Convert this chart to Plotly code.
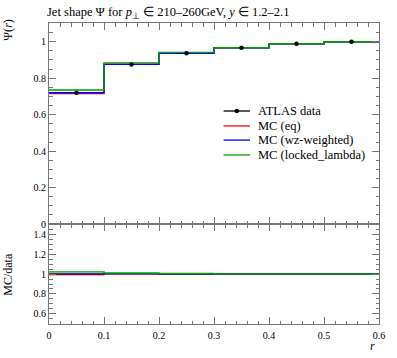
import plotly.graph_objects as go

# ---- data ----
bin_edges = [0.0, 0.1, 0.2, 0.3, 0.4, 0.5, 0.6]
bin_centers = [0.05, 0.15, 0.25, 0.35, 0.45, 0.55]
atlas_data = [0.720, 0.875, 0.937, 0.967, 0.989, 1.000]
atlas_err = [0.010, 0.005, 0.004, 0.003, 0.002, 0.001]
mc_eq = [0.716, 0.877, 0.937, 0.967, 0.989, 1.000]
mc_wz = [0.720, 0.876, 0.937, 0.967, 0.989, 1.000]
mc_locked = [0.735, 0.884, 0.942, 0.967, 0.989, 1.000]

series = [
    ("MC (eq)", mc_eq, "#ff0000"),
    ("MC (wz-weighted)", mc_wz, "#0000ff"),
    ("MC (locked_lambda)", mc_locked, "#00a000"),
]

FONT = "Liberation Serif"
AXC = "#777777"

fig = go.Figure()

def step(vals):
    return list(vals) + [vals[-1]]

# main panel MC histograms
for name, vals, col in series:
    fig.add_trace(go.Scatter(x=bin_edges, y=step(vals), mode="lines",
                             line=dict(color=col, width=1.4, shape="hv"),
                             xaxis="x", yaxis="y", showlegend=False))

# data points
fig.add_trace(go.Scatter(x=bin_centers, y=atlas_data, mode="markers",
                         marker=dict(color="black", size=4.5),
                         error_y=dict(type="data", array=atlas_err, color="black",
                                      thickness=1, width=0),
                         xaxis="x", yaxis="y", showlegend=False))

# ratio panel: data uncertainty band
rel_err = [e / d for e, d in zip(atlas_err, atlas_data)]
lo = [1 - r for r in rel_err]
hi = [1 + r for r in rel_err]
fig.add_trace(go.Scatter(x=bin_edges, y=step(lo), mode="lines",
                         line=dict(color="#ffee00", width=0, shape="hv"),
                         xaxis="x2", yaxis="y2", showlegend=False))
fig.add_trace(go.Scatter(x=bin_edges, y=step(hi), mode="lines",
                         line=dict(color="#ffee00", width=0, shape="hv"),
                         fill="tonexty", fillcolor="#ffee00",
                         xaxis="x2", yaxis="y2", showlegend=False))
for name, vals, col in series:
    ratio = [v / d for v, d in zip(vals, atlas_data)]
    fig.add_trace(go.Scatter(x=bin_edges, y=step(ratio), mode="lines",
                             line=dict(color=col, width=1.4, shape="hv"),
                             xaxis="x2", yaxis="y2", showlegend=False))

split = 0.3322
common_x = dict(range=[0, 0.6], showline=True, linecolor=AXC, linewidth=1,
                mirror="allticks", ticks="inside", ticklen=7, tickcolor=AXC,
                dtick=0.1, tick0=0, showgrid=False, zeroline=False,
                minor=dict(ticks="inside", ticklen=3.5, dtick=0.02, tickcolor=AXC))
fig.update_layout(
    width=397, height=358,
    margin=dict(l=49, r=13, t=23, b=34),
    paper_bgcolor="white", plot_bgcolor="white",
    font=dict(family=FONT, size=11, color="black"),
    showlegend=False,
    xaxis=dict(**common_x, domain=[0, 1], anchor="y", showticklabels=False),
    xaxis2=dict(**common_x, domain=[0, 1], anchor="y2", showticklabels=True,
                tickvals=[0, 0.1, 0.2, 0.3, 0.4, 0.5, 0.6],
                ticktext=["0", "0.1", "0.2", "0.3", "0.4", "0.5", "0.6"],
                tickfont=dict(size=10), ticklabelstandoff=2),
    yaxis=dict(domain=[split, 1], anchor="x", range=[0, 1.103],
               showline=True, linecolor=AXC, mirror="allticks", ticks="inside",
               ticklen=7, tickcolor=AXC,
               tickvals=[0, 0.2, 0.4, 0.6, 0.8, 1.0],
               ticktext=["0", "0.2", "0.4", "0.6", "0.8", "1"],
               minor=dict(ticks="inside", ticklen=3.5, dtick=0.05, tickcolor=AXC),
               showgrid=False, zeroline=False, tickfont=dict(size=10)),
    yaxis2=dict(domain=[0, split], anchor="x2", range=[0.5, 1.5],
                showline=True, linecolor=AXC, mirror="allticks", ticks="inside",
                ticklen=7, tickcolor=AXC,
                tickvals=[0.6, 0.8, 1.0, 1.2, 1.4],
                ticktext=["0.6", "0.8", "1", "1.2", "1.4"],
                minor=dict(ticks="inside", ticklen=3.5, dtick=0.05, tickcolor=AXC),
                showgrid=False, zeroline=False, tickfont=dict(size=10)),
)

annots = [
    dict(text="Jet shape Ψ for <i>p</i><sub>⊥</sub> ∈ 210–260GeV, <i>y</i> ∈ 1.2–2.1",
         x=-0.012, y=1.0, xref="paper", yref="paper", xanchor="left", yanchor="bottom",
         showarrow=False, font=dict(size=12.5)),
    dict(text="Ψ(<i>r</i>)", x=-0.125, y=1.02, xref="paper", yref="paper",
         xanchor="center", yanchor="top", textangle=-90, showarrow=False,
         font=dict(size=12)),
    dict(text="MC/data", x=-0.125, y=split / 2, xref="paper", yref="paper",
         xanchor="center", yanchor="middle", textangle=-90, showarrow=False,
         font=dict(size=12)),
    dict(text="<i>r</i>", x=0.995, y=-0.042, xref="paper", yref="paper",
         xanchor="right", yanchor="top", showarrow=False, font=dict(size=12)),
]

# manual legend
leg_names = ["ATLAS data"] + [s[0] for s in series]
leg_cols = ["black"] + [s[2] for s in series]
leg_y = [0.7076, 0.658, 0.611, 0.5615]
shapes = []
for nm, col, yy in zip(leg_names, leg_cols, leg_y):
    shapes.append(dict(type="line", xref="paper", yref="paper",
                       x0=0.529, x1=0.609, y0=yy, y1=yy,
                       line=dict(color=col, width=1.3)))
    annots.append(dict(text=nm, x=0.628, y=yy, xref="paper", yref="paper",
                       xanchor="left", yanchor="middle", showarrow=False,
                       font=dict(size=12.5)))
shapes.append(dict(type="circle", xref="paper", yref="paper",
                   x0=0.569 - 0.0068, x1=0.569 + 0.0068,
                   y0=leg_y[0] - 0.0076, y1=leg_y[0] + 0.0076,
                   fillcolor="black", line=dict(color="black", width=0)))

fig.update_layout(annotations=annots, shapes=shapes)
fig.write_html("out.html",
               config={"displayModeBar": False},
               post_script="document.body.style.margin='0px';")
